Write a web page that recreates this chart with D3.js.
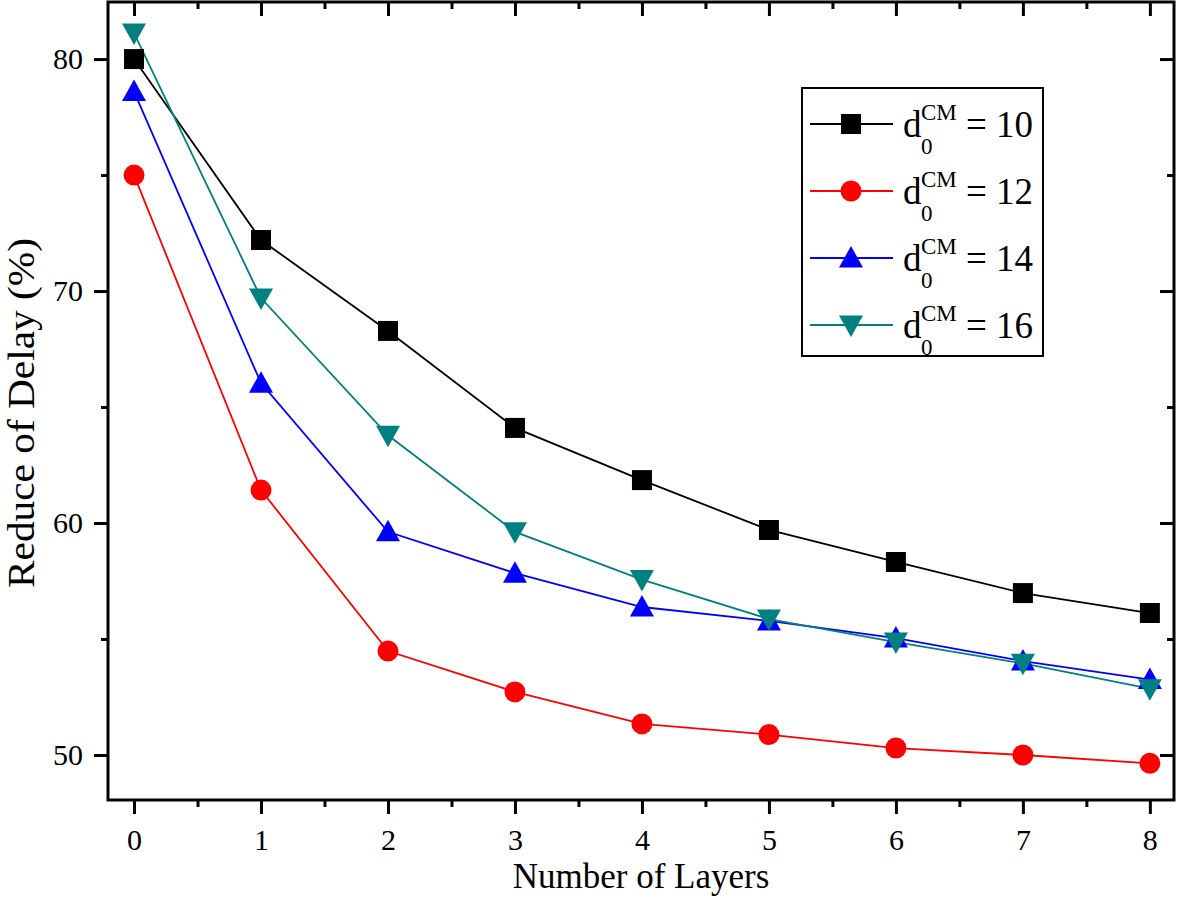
<!DOCTYPE html>
<html><head><meta charset="utf-8">
<script src="https://cdn.jsdelivr.net/npm/d3@7"></script>
<style>body{margin:0;background:#fff}svg{display:block}text{font-family:"Liberation Serif","Times New Roman",serif}</style>
</head><body>
<svg id="chart" width="1177" height="918"></svg>
<script>
const layers = [0,1,2,3,4,5,6,7,8];
const d10 = [80.0,72.2,68.28,64.1,61.85,59.7,58.32,56.98,56.12];
const d12 = [75.0,61.42,54.48,52.72,51.34,50.88,50.3,50.0,49.64];
const d14 = [78.6,66.03,59.62,57.84,56.38,55.78,55.04,54.05,53.25];
const d16 = [81.12,69.7,63.78,59.62,57.56,55.86,54.87,53.95,52.86];
const seriesNames = ["10","12","14","16"];
const xTicks = [0,1,2,3,4,5,6,7,8];
const yTicks = [50,60,70,80];

const series = [
  {name:seriesNames[0], values:d10, color:"#000000", sym:"square"},
  {name:seriesNames[1], values:d12, color:"#ff0000", sym:"circle"},
  {name:seriesNames[2], values:d14, color:"#0000ff", sym:"up"},
  {name:seriesNames[3], values:d16, color:"#008080", sym:"down"}
];

const L=108, R=1174, T=2, B=800;
const svg = d3.select("#chart");
const x = d3.scaleLinear().domain([-0.205,8.19]).range([L,R]);
const y = d3.scaleLinear().domain([48.06,82.46]).range([B,T]);

function symPath(sym){
  if(sym==="square") return "M-10,-10H10V10H-10Z";
  if(sym==="circle") return d3.symbol(d3.symbolCircle, Math.PI*10.5*10.5)();
  if(sym==="up") return "M0,-12L12,9.5L-12,9.5Z";
  return "M0,12L12,-9.5L-12,-9.5Z";
}

// lines
const line = d3.line().x((d,i)=>x(layers[i])).y(d=>y(d));
series.forEach(s=>{
  svg.append("path").attr("d",line(s.values)).attr("fill","none").attr("stroke",s.color).attr("stroke-width",1.8);
});
series.forEach(s=>{
  svg.append("g").selectAll("path").data(s.values).join("path")
    .attr("transform",(d,i)=>`translate(${x(layers[i])},${y(d)})`)
    .attr("d",symPath(s.sym)).attr("fill",s.color);
});

// axes
const minorX = d3.range(0,8.01,0.5).filter(v=>v%1!==0);
const minorY = [55,65,75];
const gb = svg.append("g").attr("transform",`translate(0,${B})`).call(d3.axisBottom(x).tickValues(xTicks).tickSize(14).tickSizeOuter(0).tickPadding(15));
const gbm = svg.append("g").attr("transform",`translate(0,${B})`).call(d3.axisBottom(x).tickValues(minorX).tickSize(7).tickFormat(""));
const gt = svg.append("g").attr("transform",`translate(0,${T})`).call(d3.axisBottom(x).tickValues(xTicks).tickSize(14).tickFormat(""));
const gtm = svg.append("g").attr("transform",`translate(0,${T})`).call(d3.axisBottom(x).tickValues(minorX).tickSize(7).tickFormat(""));
const gl = svg.append("g").attr("transform",`translate(${L},0)`).call(d3.axisLeft(y).tickValues(yTicks).tickSize(14).tickSizeOuter(0).tickPadding(11));
const glm = svg.append("g").attr("transform",`translate(${L},0)`).call(d3.axisLeft(y).tickValues(minorY).tickSize(7).tickFormat(""));
const gr = svg.append("g").attr("transform",`translate(${R},0)`).call(d3.axisLeft(y).tickValues(yTicks).tickSize(14).tickFormat(""));
const grm = svg.append("g").attr("transform",`translate(${R},0)`).call(d3.axisLeft(y).tickValues(minorY).tickSize(7).tickFormat(""));
[gb,gbm,gt,gtm,gl,glm,gr,grm].forEach(g=>{
  g.selectAll(".domain").remove();
  g.selectAll("line").attr("stroke","#000").attr("stroke-width",3);
  g.selectAll("text").attr("font-size",30).attr("fill","#000").attr("font-family","Liberation Serif");
});
svg.append("rect").attr("x",L).attr("y",T).attr("width",R-L).attr("height",B-T).attr("fill","none").attr("stroke","#000").attr("stroke-width",3);

// axis titles
svg.append("text").attr("x",641).attr("y",888).attr("text-anchor","middle").attr("font-size",35).text("Number of Layers");
svg.append("text").attr("transform",`translate(34,413) rotate(-90)`).attr("text-anchor","middle").attr("font-size",37)
  .attr("textLength",350).attr("lengthAdjust","spacingAndGlyphs").text("Reduce of Delay (%)");

// legend
const lg = svg.append("g");
lg.append("rect").attr("x",802).attr("y",88).attr("width",241).attr("height",268).attr("fill","#fff").attr("stroke","#000").attr("stroke-width",2);
series.forEach((s,i)=>{
  const cy = 124 + i*67;
  lg.append("line").attr("x1",810).attr("x2",893).attr("y1",cy).attr("y2",cy).attr("stroke",s.color).attr("stroke-width",1.8);
  lg.append("path").attr("transform",`translate(851,${cy})`).attr("d",symPath(s.sym)).attr("fill",s.color);
  const t = lg.append("text").attr("x",903).attr("y",cy+13).attr("font-size",37);
  t.append("tspan").text("d");
  t.append("tspan").attr("font-size",23).attr("dy",-17).attr("x",921).text("CM");
  t.append("tspan").attr("font-size",23).attr("x",921).attr("dy",34).text("0");
  t.append("tspan").attr("x",966).attr("dy",-17).text("= "+s.name);
});
</script>
</body></html>
